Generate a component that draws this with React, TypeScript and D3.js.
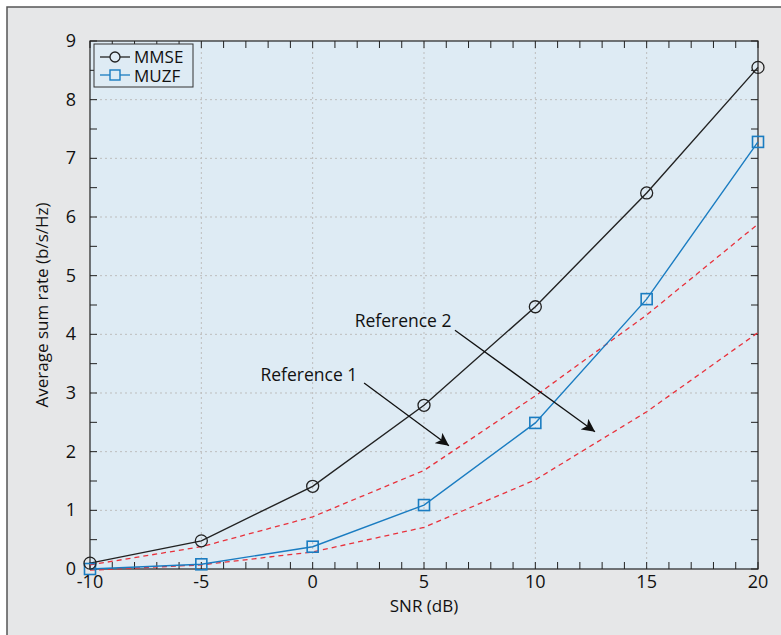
import * as d3 from "d3";

const snr = [-10, -5, 0, 5, 10, 15, 20];
const mmse = [0.1, 0.48, 1.41, 2.79, 4.47, 6.41, 8.55];
const muzf = [0, 0.08, 0.38, 1.09, 2.49, 4.6, 7.28];
const ref1 = [0.07, 0.38, 0.89, 1.68, 2.95, 4.33, 5.88];
const ref2 = [-0.02, 0.07, 0.29, 0.71, 1.52, 2.68, 4.03];
const xTickValues = [-10, -5, 0, 5, 10, 15, 20];
const yTickValues = [0, 1, 2, 3, 4, 5, 6, 7, 8, 9];

const FONT = "'Open Sans', 'Noto Sans', sans-serif";

export default function App() {
  const width = 781;
  const height = 635;
  const margin = { top: 41, right: 23, bottom: 66, left: 90 };

  const x = d3
    .scaleLinear()
    .domain([-10, 20])
    .range([margin.left, width - margin.right]);
  const y = d3
    .scaleLinear()
    .domain([0, 9])
    .range([height - margin.bottom, margin.top]);

  const x0 = x.range()[0];
  const x1 = x.range()[1];
  const y0 = y.range()[0];
  const y1 = y.range()[1];

  const line = d3
    .line<number>()
    .x((_, i) => x(snr[i]))
    .y((d) => y(d));

  const xMinor = d3.range(-10, 20.001, 1);
  const yMinor = d3.range(0, 9.001, 0.5);
  const tickLen = 7;

  // annotation arrows, data coords
  const arrows = [
    { from: [2.31, 3.17], to: [6.12, 2.1] },
    { from: [6.39, 4.07], to: [12.68, 2.34] },
  ];

  return (
    <svg
      width={width}
      height={height}
      style={{ position: "absolute", left: 0, top: 0 }}
      fontFamily={FONT}
    >
      <defs>
        <marker
          id="arrow"
          viewBox="0 0 10 10"
          refX="10"
          refY="5"
          markerWidth="13"
          markerHeight="13"
          markerUnits="userSpaceOnUse"
          orient="auto"
        >
          <path d="M0,0 L10,5 L0,10 L2.5,5 Z" fill="#111" />
        </marker>
      </defs>
      <rect x={0} y={0} width={width} height={height} fill="#fff" />
      <rect
        x={7}
        y={7}
        width={width + 10}
        height={height + 10}
        fill="#e6e7e8"
        stroke="#555"
        strokeWidth={1.5}
      />
      <rect x={x0} y={y1} width={x1 - x0} height={y0 - y1} fill="#deebf4" />

      {/* grid */}
      {xTickValues.slice(1, -1).map((t) => (
        <line
          key={"gx" + t}
          x1={x(t)}
          x2={x(t)}
          y1={y0}
          y2={y1}
          stroke="#bdbdbd"
          strokeDasharray="2,3"
        />
      ))}
      {yTickValues.slice(1, -1).map((t) => (
        <line
          key={"gy" + t}
          x1={x0}
          x2={x1}
          y1={y(t)}
          y2={y(t)}
          stroke="#bdbdbd"
          strokeDasharray="2,3"
        />
      ))}

      {/* minor ticks */}
      {xMinor.map((t) => (
        <g key={"tx" + t} stroke="#222">
          <line x1={x(t)} x2={x(t)} y1={y0} y2={y0 - tickLen} />
          <line x1={x(t)} x2={x(t)} y1={y1} y2={y1 + tickLen} />
        </g>
      ))}
      {yMinor.map((t) => (
        <g key={"ty" + t} stroke="#222">
          <line x1={x0} x2={x0 + tickLen} y1={y(t)} y2={y(t)} />
          <line x1={x1} x2={x1 - tickLen} y1={y(t)} y2={y(t)} />
        </g>
      ))}

      <rect
        x={x0}
        y={y1}
        width={x1 - x0}
        height={y0 - y1}
        fill="none"
        stroke="#222"
        strokeWidth={1.2}
      />

      {/* reference curves */}
      <path d={line(ref1) || ""} fill="none" stroke="#e8323c" strokeWidth={1.3} strokeDasharray="5,4" />
      <path d={line(ref2) || ""} fill="none" stroke="#e8323c" strokeWidth={1.3} strokeDasharray="5,4" />

      {/* series */}
      <path d={line(muzf) || ""} fill="none" stroke="#1a7cc1" strokeWidth={1.4} />
      <path d={line(mmse) || ""} fill="none" stroke="#222" strokeWidth={1.4} />
      {muzf.map((v, i) => (
        <rect
          key={"s" + i}
          x={x(snr[i]) - 5.5}
          y={y(v) - 5.5}
          width={11}
          height={11}
          fill="none"
          stroke="#1a7cc1"
          strokeWidth={1.6}
        />
      ))}
      {mmse.map((v, i) => (
        <circle
          key={"c" + i}
          cx={x(snr[i])}
          cy={y(v)}
          r={6}
          fill="none"
          stroke="#222"
          strokeWidth={1.3}
        />
      ))}

      {/* annotations */}
      {arrows.map((a, i) => (
        <line
          key={"a" + i}
          x1={x(a.from[0])}
          y1={y(a.from[1])}
          x2={x(a.to[0])}
          y2={y(a.to[1])}
          stroke="#111"
          strokeWidth={1.3}
          markerEnd="url(#arrow)"
        />
      ))}
      <text x={x(-0.17)} y={y(3.2)} fontSize={17.5} fill="#111" textAnchor="middle">
        Reference 1
      </text>
      <text x={x(4.06)} y={y(4.12)} fontSize={17.5} fill="#111" textAnchor="middle">
        Reference 2
      </text>

      {/* tick labels */}
      {xTickValues.map((t) => (
        <text
          key={"lx" + t}
          x={x(t)}
          y={y0 + 19}
          fontSize={18}
          textAnchor="middle"
          fill="#111"
        >
          {t}
        </text>
      ))}
      {yTickValues.map((t) => (
        <text
          key={"ly" + t}
          x={x0 - 14}
          y={y(t) + 6}
          fontSize={18}
          textAnchor="end"
          fill="#111"
        >
          {t}
        </text>
      ))}

      <text x={(x0 + x1) / 2} y={y0 + 43} fontSize={17} textAnchor="middle" fill="#111">
        SNR (dB)
      </text>
      <text
        transform={`translate(48, ${(y0 + y1) / 2}) rotate(-90)`}
        fontSize={17}
        textAnchor="middle"
        fill="#111"
      >
        Average sum rate (b/s/Hz)
      </text>

      {/* legend */}
      <g transform={`translate(${x0 + 4}, ${y1 + 3})`}>
        <rect width={99} height={43} fill="#deebf4" stroke="#333" strokeWidth={1} />
        <line x1={6} x2={36} y1={13} y2={13} stroke="#222" strokeWidth={1.3} />
        <circle cx={21} cy={13} r={5} fill="#deebf4" stroke="#222" strokeWidth={1.3} />
        <text x={40} y={19} fontSize={17} fill="#111">
          MMSE
        </text>
        <line x1={6} x2={36} y1={31} y2={31} stroke="#1a7cc1" strokeWidth={1.3} />
        <rect x={16} y={26} width={10} height={10} fill="#deebf4" stroke="#1a7cc1" strokeWidth={1.4} />
        <text x={40} y={37.5} fontSize={17} fill="#111">
          MUZF
        </text>
      </g>
    </svg>
  );
}
